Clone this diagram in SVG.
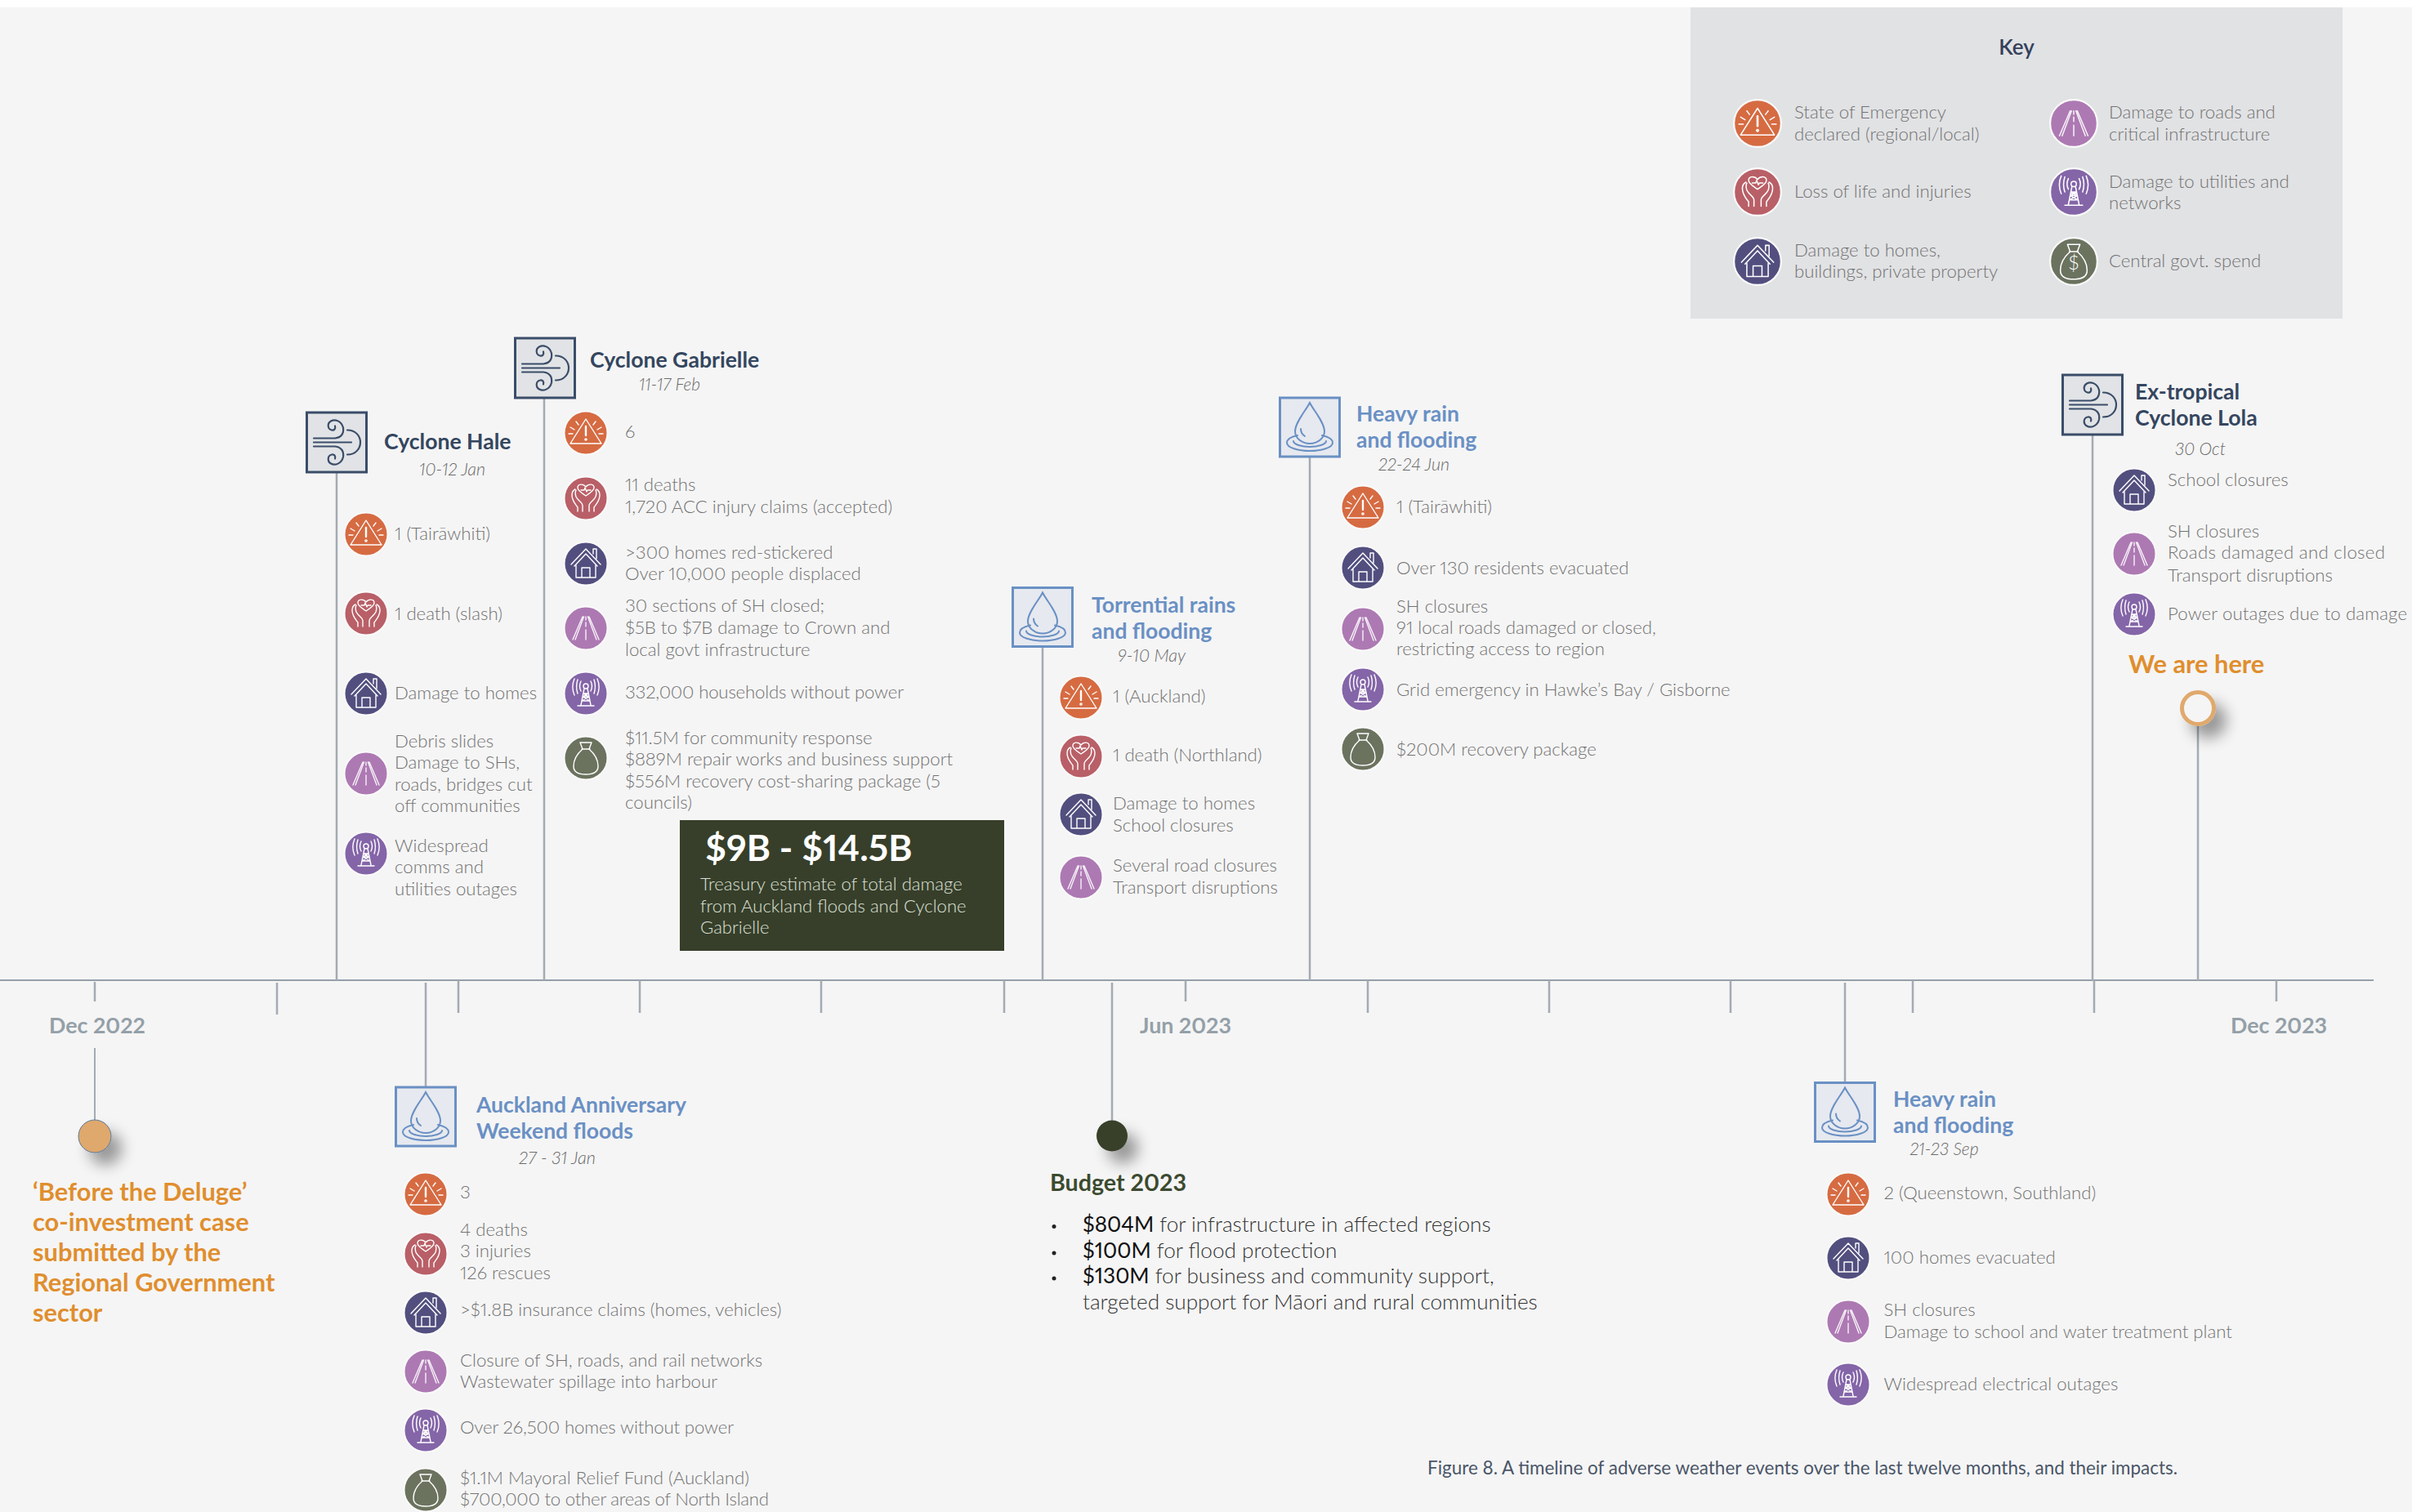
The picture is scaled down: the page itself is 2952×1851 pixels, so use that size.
<svg xmlns="http://www.w3.org/2000/svg" width="2952" height="1851" viewBox="0 0 2952 1851">
<style>
text{font-family:"Lato","Liberation Sans",sans-serif;font-variant-numeric:proportional-nums}
.t{font-size:22.2px;font-weight:300;fill:#727272}
.d{font-size:22px;font-weight:300;font-style:italic;fill:#6a6a6a}
.c{font-size:26.6px;font-weight:700;fill:#34465f}
.f{font-size:26.5px;font-weight:700;fill:#6a90c4}
.o{font-size:30.8px;font-weight:700;fill:#e08e2e}
.m{font-size:26.8px;font-weight:700;fill:#94a0a8}
.b{font-size:26.15px;font-weight:300;fill:#333}
.s{font-weight:400;fill:#111}
.g{font-size:22.1px;font-weight:300;fill:#dde0d8}
.conn line{stroke:#a3abb3;stroke-width:2.5;fill:none}
.g1{fill:none;stroke:#fff;stroke-width:1.4;stroke-linecap:round;stroke-linejoin:round}
.ring{stroke:#fafafa;stroke-width:2}
.wb{fill:#e1e3e6;stroke:#3a4d68;stroke-width:3}
.wg{fill:none;stroke:#3a4d68;stroke-width:2.2;stroke-linecap:round}
.db{fill:#e6e9ef;stroke:#6a90c4;stroke-width:3}
.dg{fill:none;stroke:#6a90c4;stroke-width:2;stroke-linecap:round}
</style>
<defs>
<filter id="sh" x="-150%" y="-150%" width="400%" height="400%"><feGaussianBlur in="SourceAlpha" stdDeviation="9"/><feOffset dx="13" dy="15"/><feComponentTransfer><feFuncA type="linear" slope="0.38"/></feComponentTransfer><feMerge><feMergeNode/><feMergeNode in="SourceGraphic"/></feMerge></filter>
<g id="alert"><circle r="26.5" fill="#d66b42" class="ring"/><g class="g1"><path d="M0-17 19 13H-19Z"/><path d="M0-8V3" stroke-width="2.4"/><circle cy="8" r="1.1"/><path d="M-19-7-14-4M19-7 14-4M-21 1H-16M21 1H16M-12-14-9-10M12-14 9-10"/></g></g>
<g id="life"><circle r="26.5" fill="#b95f67" class="ring"/><g class="g1" stroke-width="1.2"><path d="M0-3C-4-6-10-9-10-13-10-18-3-18 0-14 3-18 10-18 10-13 10-9 4-6 0-3Z"/><path d="M-6-10H-2L-1-13 1-8 2-10H6"/><path d="M-4 16V9C-4 5-10 3-12-2-13-5-13-8-12-10M4 16V9C4 5 10 3 12-2 13-5 13-8 12-10"/><path d="M-10 16V11C-13 7-17 3-17-4-17-8-15-10-13-11M10 16V11C13 7 17 3 17-4 17-8 15-10 13-11"/></g></g>
<g id="home"><circle r="26.5" fill="#524f7f" class="ring"/><g class="g1" stroke-width="1.8"><path d="M-18 1 0-18 18 1M-14 3 0-12 14 3"/><path d="M9-12V-18H13V-6"/><path d="M-12 2V17H-5V5H5V17H12V2M-5 17H5"/></g></g>
<g id="road"><circle r="26.5" fill="#ad79b3" class="ring"/><g class="g1" stroke-width="1.1" opacity=".9"><path d="M-4-14-16 14M-2.5-14-13 14M4-14 16 14M2.5-14 13 14"/><path d="M0-14V-10M0-7V-2M0 2V14"/></g></g>
<g id="net"><circle r="26.5" fill="#8465a8" class="ring"/><g class="g1" stroke-width="1"><circle cy="-9" r="3"/><path d="M-6-15C-8-11-8-7-6-3M6-15C8-11 8-7 6-3M-10-17C-12-11-12-6-10 0M10-17C12-11 12-6 10 0M-14-18C-17-11-17-5-14 2M14-18C17-11 17-5 14 2"/><path d="M-2-6-6 14M2-6 6 14M-10 15H10M-4 4H4M-3 0H3M-4 4 3 0M4 4-3 0M-5 9H5M-4 4 5 9M4 4-5 9"/></g></g>
<g id="bag"><circle r="26.5" fill="#6b735f" class="ring"/><g class="g1"><path d="M-7-19H7L4-11H-4ZM-5-11H5"/><path d="M-4-11C-12-4-15 4-15 10-15 17-9 20 0 20 9 20 15 17 15 10 15 4 12-4 4-11"/></g></g>
<g id="wind"><rect x="-36.5" y="-36.5" width="73" height="73" class="wb"/><path class="wg" d="M-28-5H-2C6-6 9-11 8-18 6-26-2-29-7-26-12-23-11-16-6-15-3-14-1-17-2-20"/><path class="wg" d="M-28 5H-2C6 6 9 11 8 18 6 26-2 29-7 26-12 23-11 16-6 15-3 14-1 17-2 20"/><path class="wg" d="M-28 0H18"/><path class="wg" d="M13-15C24-15 29-7 29 0 29 7 24 15 13 15"/></g>
<g id="drop"><rect x="-36.5" y="-36" width="73" height="72" class="db"/><path class="dg" d="M0-30C-5-20-18-6-18 5-18 13-10 20 0 20 10 20 18 13 18 5 18-6 5-20 0-30Z"/><path class="dg" d="M-11 2C-11 6-9 9-6 11"/><path class="dg" d="M-15 10C-24 12-28 15-28 19-28 25-14 29 0 29 14 29 28 25 28 19 28 15 24 12 15 10"/><path class="dg" d="M-20 17C-20 21-10 24 0 24 10 24 20 21 20 17"/></g>
</defs>
<rect width="2952" height="1851" fill="#fff"/>
<rect y="9" width="2952" height="1842" fill="#f5f5f5"/>

<g id="connectors" class="conn">
<line x1="0" y1="1200" x2="2905" y2="1200" style="stroke:#94a0ab;stroke-width:2"/>
<line x1="116" y1="1202" x2="116" y2="1226"/><line x1="339" y1="1203" x2="339" y2="1242"/><line x1="561" y1="1200" x2="561" y2="1240"/><line x1="783" y1="1200" x2="783" y2="1240"/><line x1="1005" y1="1200" x2="1005" y2="1240"/><line x1="1229" y1="1200" x2="1229" y2="1240"/><line x1="1451" y1="1200" x2="1451" y2="1226"/><line x1="1674" y1="1200" x2="1674" y2="1240"/><line x1="1896" y1="1200" x2="1896" y2="1240"/><line x1="2118" y1="1200" x2="2118" y2="1240"/><line x1="2341" y1="1200" x2="2341" y2="1240"/><line x1="2563" y1="1200" x2="2563" y2="1240"/><line x1="2786" y1="1200" x2="2786" y2="1226"/>
<line x1="412" y1="579" x2="412" y2="1200"/><line x1="666" y1="488" x2="666" y2="1200"/><line x1="1276" y1="793" x2="1276" y2="1200"/><line x1="1603" y1="560" x2="1603" y2="1200"/><line x1="2561" y1="533" x2="2561" y2="1200"/><line x1="2690" y1="887" x2="2690" y2="1200"/>
<line x1="521" y1="1203" x2="521" y2="1330"/><line x1="1361" y1="1203" x2="1361" y2="1375"/><line x1="2258" y1="1203" x2="2258" y2="1324"/><line x1="116" y1="1283" x2="116" y2="1371" style="stroke-width:2"/>
</g>

<g id="axis-labels"><text class="m" x="60" y="1264.5">Dec 2022</text><text class="m" x="1395" y="1264.5">Jun 2023</text><text class="m" x="2730" y="1264.5">Dec 2023</text></g>

<g id="key"><rect x="2069" y="9" width="798" height="381" fill="#e1e2e4"/>
<text x="2468" y="67" text-anchor="middle" style="font-size:26px;font-weight:600;fill:#34405a">Key</text>
<use href="#alert" transform="translate(2151 151) scale(1.09)"/><use href="#life" transform="translate(2151 235) scale(1.09)"/><use href="#home" transform="translate(2151 320) scale(1.09)"/><use href="#road" transform="translate(2538 151) scale(1.09)"/><use href="#net" transform="translate(2538 235) scale(1.09)"/><use href="#bag" transform="translate(2538 320) scale(1.09)"/>
<text x="2538" y="330" text-anchor="middle" style="font-size:24px;font-weight:300;fill:#fff">$</text>
<text class="t" x="2196" y="145">State of Emergency</text><text class="t" x="2196" y="172">declared (regional/local)</text><text class="t" x="2196" y="242">Loss of life and injuries</text><text class="t" x="2196" y="314">Damage to homes,</text><text class="t" x="2196" y="340">buildings, private property</text>
<text class="t" x="2581" y="145">Damage to roads and</text><text class="t" x="2581" y="172">critical infrastructure</text><text class="t" x="2581" y="230">Damage to utilities and</text><text class="t" x="2581" y="256">networks</text><text class="t" x="2581" y="327">Central govt. spend</text></g>

<g id="deluge"><circle cx="116" cy="1391" r="20" fill="#dfa86c" stroke="#5a7a9a" filter="url(#sh)"/>
<text class="o" x="40" y="1470">‘Before the Deluge’</text><text class="o" x="40" y="1507">co-investment case</text><text class="o" x="40" y="1544">submitted by the</text><text class="o" x="40" y="1581">Regional Government</text><text class="o" x="40" y="1618">sector</text></g>

<g id="hale"><use href="#wind" x="412" y="541.5"/><text class="c" x="470" y="550">Cyclone Hale</text><text class="d" x="513" y="582" textLength="81" lengthAdjust="spacingAndGlyphs">10-12 Jan</text>
<use href="#alert" x="448" y="654"/><use href="#life" x="448" y="751"/><use href="#home" x="448" y="849"/><use href="#road" x="448" y="947"/><use href="#net" x="448" y="1045"/>
<text class="t" x="483" y="661">1 (Tairāwhiti)</text><text class="t" x="483" y="759">1 death (slash)</text><text class="t" x="483" y="856">Damage to homes</text><text class="t" x="483" y="915">Debris slides</text><text class="t" x="483" y="941">Damage to SHs,</text><text class="t" x="483" y="968">roads, bridges cut</text><text class="t" x="483" y="994">off communities</text><text class="t" x="483" y="1043">Widespread</text><text class="t" x="483" y="1069">comms and</text><text class="t" x="483" y="1096">utilities outages</text></g>

<g id="gabrielle"><use href="#wind" x="667" y="450.5"/><text class="c" x="722" y="450">Cyclone Gabrielle</text><text class="d" x="782" y="478" textLength="75" lengthAdjust="spacingAndGlyphs">11-17 Feb</text>
<use href="#alert" x="717" y="530"/><use href="#life" x="717" y="610"/><use href="#home" x="717" y="690"/><use href="#road" x="717" y="769"/><use href="#net" x="717" y="849"/><use href="#bag" x="717" y="928"/>
<text class="t" x="765" y="536">6</text><text class="t" x="765" y="601">11 deaths</text><text class="t" x="765" y="628">1,720 ACC injury claims (accepted)</text><text class="t" x="765" y="684">&gt;300 homes red-stickered</text><text class="t" x="765" y="710">Over 10,000 people displaced</text><text class="t" x="765" y="749">30 sections of SH closed;</text><text class="t" x="765" y="776">$5B to $7B damage to Crown and</text><text class="t" x="765" y="803">local govt infrastructure</text><text class="t" x="765" y="855" textLength="341" lengthAdjust="spacing">332,000 households without power</text><text class="t" x="765" y="911">$11.5M for community response</text><text class="t" x="765" y="937">$889M repair works and business support</text><text class="t" x="765" y="964">$556M recovery cost-sharing package (5</text><text class="t" x="765" y="990">councils)</text></g>

<g id="treasury"><rect x="832" y="1004" width="397" height="160" fill="#373f2a"/><text x="863" y="1054" style="font-size:44.5px;font-weight:700;fill:#fff">$9B - $14.5B</text><text class="g" x="857" y="1090">Treasury estimate of total damage</text><text class="g" x="857" y="1117">from Auckland floods and Cyclone</text><text class="g" x="857" y="1143">Gabrielle</text></g>

<g id="auckland"><use href="#drop" x="521" y="1367"/><text class="f" x="583" y="1361.5">Auckland Anniversary</text><text class="f" x="583" y="1393.5">Weekend floods</text><text class="d" x="635" y="1425" textLength="94" lengthAdjust="spacingAndGlyphs">27 - 31 Jan</text>
<use href="#alert" x="521" y="1462"/><use href="#life" x="521" y="1535"/><use href="#home" x="521" y="1607"/><use href="#road" x="521" y="1679"/><use href="#net" x="521" y="1751"/><use href="#bag" x="521" y="1824"/>
<text class="t" x="563" y="1467">3</text><text class="t" x="563" y="1513">4 deaths</text><text class="t" x="563" y="1539">3 injuries</text><text class="t" x="563" y="1566">126 rescues</text><text class="t" x="563" y="1611">&gt;$1.8B insurance claims (homes, vehicles)</text><text class="t" x="563" y="1673">Closure of SH, roads, and rail networks</text><text class="t" x="563" y="1699">Wastewater spillage into harbour</text><text class="t" x="563" y="1755" textLength="335" lengthAdjust="spacing">Over 26,500 homes without power</text><text class="t" x="563" y="1817">$1.1M Mayoral Relief Fund (Auckland)</text><text class="t" x="563" y="1843" textLength="378" lengthAdjust="spacing">$700,000 to other areas of North Island</text></g>

<g id="torrential"><use href="#drop" x="1276" y="755.5"/><text class="f" x="1336" y="749.5">Torrential rains</text><text class="f" x="1336" y="781.5">and flooding</text><text class="d" x="1368" y="810" textLength="83" lengthAdjust="spacingAndGlyphs">9-10 May</text>
<use href="#alert" x="1323" y="854"/><use href="#life" x="1323" y="926"/><use href="#home" x="1323" y="997"/><use href="#road" x="1323" y="1074"/>
<text class="t" x="1362" y="860">1 (Auckland)</text><text class="t" x="1362" y="932">1 death (Northland)</text><text class="t" x="1362" y="991">Damage to homes</text><text class="t" x="1362" y="1018">School closures</text><text class="t" x="1362" y="1067">Several road closures</text><text class="t" x="1362" y="1094">Transport disruptions</text></g>

<g id="budget"><circle cx="1361" cy="1390.5" r="19" fill="#383f29" filter="url(#sh)"/><text x="1285" y="1457.5" textLength="167" lengthAdjust="spacingAndGlyphs" style="font-size:28px;font-weight:700;fill:#3c4a30">Budget 2023</text>
<circle cx="1290" cy="1501.5" r="2.5" fill="#222"/><circle cx="1290" cy="1534" r="2.5" fill="#222"/><circle cx="1290" cy="1565" r="2.5" fill="#222"/>
<text class="b" x="1325" y="1508"><tspan class="s">$804M</tspan> for infrastructure in affected regions</text><text class="b" x="1325" y="1540"><tspan class="s">$100M</tspan> for flood protection</text><text class="b" x="1325" y="1571"><tspan class="s">$130M</tspan> for business and community support,</text><text class="b" x="1325" y="1603">targeted support for Māori and rural communities</text></g>

<g id="june-rain"><use href="#drop" x="1603" y="523"/><text class="f" x="1660" y="515.5">Heavy rain</text><text class="f" x="1660" y="547.5">and flooding</text><text class="d" x="1687" y="576" textLength="87" lengthAdjust="spacingAndGlyphs">22-24 Jun</text>
<use href="#alert" x="1668" y="621"/><use href="#home" x="1668" y="695"/><use href="#road" x="1668" y="770"/><use href="#net" x="1668" y="844"/><use href="#bag" x="1668" y="917"/>
<text class="t" x="1709" y="627.5">1 (Tairāwhiti)</text><text class="t" x="1709" y="702.5">Over 130 residents evacuated</text><text class="t" x="1709" y="749.5">SH closures</text><text class="t" x="1709" y="775.5">91 local roads damaged or closed,</text><text class="t" x="1709" y="802">restricting access to region</text><text class="t" x="1709" y="851.5">Grid emergency in Hawke’s Bay / Gisborne</text><text class="t" x="1709" y="924.5">$200M recovery package</text></g>

<g id="sept-rain"><use href="#drop" x="2258" y="1361.5"/><text class="f" x="2317" y="1354.5">Heavy rain</text><text class="f" x="2317" y="1386.5">and flooding</text><text class="d" x="2337.5" y="1414" textLength="84" lengthAdjust="spacingAndGlyphs">21-23 Sep</text>
<use href="#alert" x="2262" y="1462"/><use href="#home" x="2262" y="1540"/><use href="#road" x="2262" y="1618"/><use href="#net" x="2262" y="1695"/>
<text class="t" x="2305.5" y="1468">2 (Queenstown, Southland)</text><text class="t" x="2305.5" y="1547">100 homes evacuated</text><text class="t" x="2305.5" y="1611">SH closures</text><text class="t" x="2305.5" y="1638">Damage to school and water treatment plant</text><text class="t" x="2305.5" y="1702">Widespread electrical outages</text></g>

<g id="lola"><use href="#wind" x="2561" y="495.5"/><text class="c" x="2613" y="489">Ex-tropical</text><text class="c" x="2613" y="521">Cyclone Lola</text><text class="d" x="2662" y="557" textLength="62" lengthAdjust="spacingAndGlyphs">30 Oct</text>
<use href="#home" x="2612" y="600"/><use href="#road" x="2612" y="678"/><use href="#net" x="2612" y="752"/>
<text class="t" x="2653" y="595">School closures</text><text class="t" x="2653" y="658">SH closures</text><text class="t" x="2653" y="684" textLength="266" lengthAdjust="spacing">Roads damaged and closed</text><text class="t" x="2653" y="712">Transport disruptions</text><text class="t" x="2653" y="759" textLength="293" lengthAdjust="spacing">Power outages due to damage</text></g>

<g id="here"><text class="o" x="2605" y="823.5">We are here</text><circle cx="2690" cy="867" r="19.5" fill="#f5f5f5" stroke="#e0a96d" stroke-width="5" filter="url(#sh)"/></g>

<text id="caption" x="1747" y="1804.5" style="font-size:22.45px;font-weight:400;fill:#4a5568">Figure 8. A timeline of adverse weather events over the last twelve months, and their impacts.</text>
</svg>
